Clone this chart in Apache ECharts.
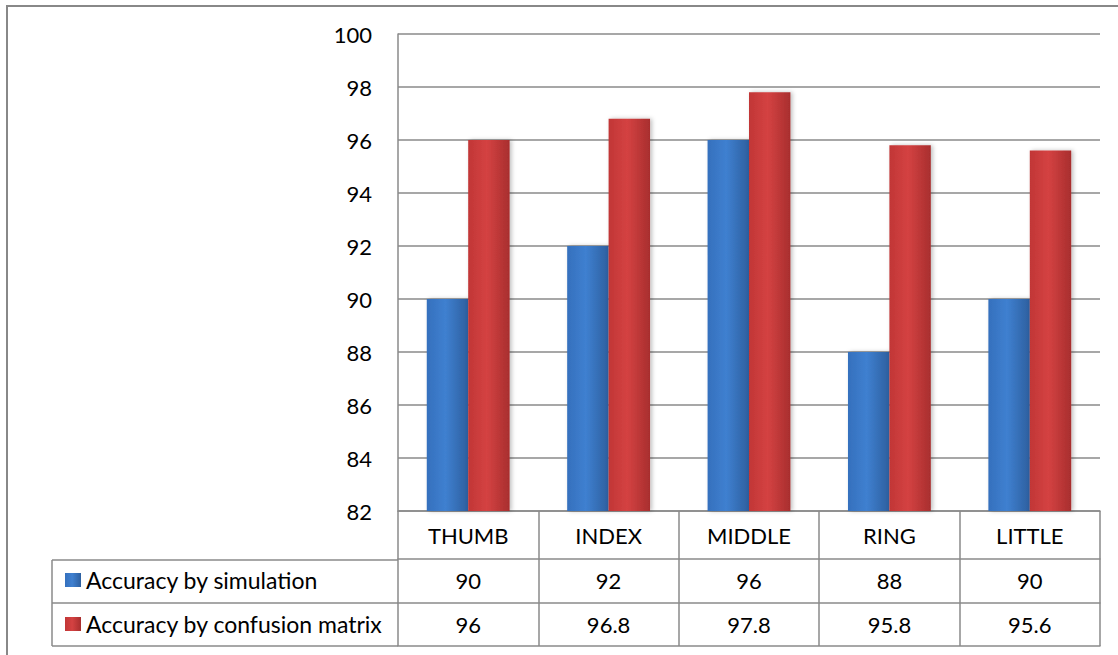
<!DOCTYPE html>
<html>
<head>
<meta charset="utf-8">
<script src="https://cdn.jsdelivr.net/npm/echarts@6/dist/echarts.min.js"></script>
<style>
html,body{margin:0;padding:0;background:#fff;}
#chart{width:1118px;height:655px;}
</style>
</head>
<body>
<div id="chart"></div>
<script>
const categories = ['THUMB', 'INDEX', 'MIDDLE', 'RING', 'LITTLE'];
const seriesNames = ['Accuracy by simulation', 'Accuracy by confusion matrix'];
const simulation = [90, 92, 96, 88, 90];
const confusion = [96, 96.8, 97.8, 95.8, 95.6];
const yTicks = { min: 82, max: 100, interval: 2 };

const FONT = 'Lato, "Open Sans", sans-serif';
const GRID = '#8a8a8a';
const FS = 22;

const chart = echarts.init(document.getElementById('chart'), null, { renderer: 'svg' });

function grad(c1, c2, c3) {
  return new echarts.graphic.LinearGradient(0, 0, 1, 0, [
    { offset: 0, color: c1 },
    { offset: 0.45, color: c2 },
    { offset: 1, color: c3 }
  ]);
}

const blueFill = grad('#3570bd', '#3f80d0', '#2d5f9f');
const redFill = grad('#c13636', '#d44242', '#a82e2e');

chart.setOption({
  animation: false,
  backgroundColor: '#fff',
  grid: { left: 398, right: 18, top: 34, bottom: 144, containLabel: false },
  legend: {
    orient: 'vertical',
    left: 60,
    top: 563,
    itemWidth: 16,
    itemHeight: 14,
    itemGap: 20,
    icon: 'rect',
    textStyle: { fontFamily: FONT, fontSize: 23, color: '#000', lineHeight: 24 },
    data: [
      { name: seriesNames[0], itemStyle: { color: blueFill } },
      { name: seriesNames[1], itemStyle: { color: redFill } }
    ]
  },
  yAxis: {
    type: 'value',
    min: yTicks.min,
    max: yTicks.max,
    interval: yTicks.interval,
    axisLine: { show: true, lineStyle: { color: GRID, width: 1.5 } },
    axisTick: { show: false },
    splitLine: { lineStyle: { color: GRID, width: 1.5 } },
    axisLabel: { fontFamily: FONT, fontSize: FS, color: '#000', margin: 26 }
  },
  xAxis: [
    {
      type: 'category',
      data: categories,
      position: 'bottom',
      axisLine: { show: true, lineStyle: { color: GRID, width: 1.5 } },
      axisTick: { show: true, length: 135, lineStyle: { color: GRID, width: 1.5 } },
      axisLabel: { fontFamily: FONT, fontSize: FS, color: '#000', margin: 13 }
    },
    {
      type: 'category',
      data: simulation.map(String),
      position: 'bottom',
      offset: 48,
      axisLine: { show: true, lineStyle: { color: GRID, width: 1.5 } },
      axisTick: { show: false },
      axisLabel: { fontFamily: FONT, fontSize: FS, color: '#000', margin: 10 }
    },
    {
      type: 'category',
      data: confusion.map(String),
      position: 'bottom',
      offset: 92,
      axisLine: { show: true, lineStyle: { color: GRID, width: 1.5 } },
      axisTick: { show: false },
      axisLabel: { fontFamily: FONT, fontSize: FS, color: '#000', margin: 10 }
    },
    {
      type: 'category',
      data: categories,
      position: 'bottom',
      offset: 135,
      axisLine: { show: true, lineStyle: { color: GRID, width: 1.5 } },
      axisTick: { show: false },
      axisLabel: { show: false }
    }
  ],
  series: [
    {
      name: seriesNames[0],
      type: 'bar',
      xAxisIndex: 0,
      data: simulation,
      barGap: '0%',
      barCategoryGap: '41%',
      itemStyle: {
        color: blueFill,
        shadowColor: 'rgba(0,0,0,0.25)',
        shadowBlur: 4,
        shadowOffsetX: 2
      }
    },
    {
      name: seriesNames[1],
      type: 'bar',
      xAxisIndex: 0,
      data: confusion,
      barGap: '0%',
      barCategoryGap: '41%',
      itemStyle: {
        color: redFill,
        shadowColor: 'rgba(0,0,0,0.25)',
        shadowBlur: 4,
        shadowOffsetX: 2
      }
    }
  ],
  graphic: [
    { type: 'rect', shape: { x: 7, y: 6, width: 1200, height: 800 }, style: { fill: null, stroke: '#888', lineWidth: 2 }, silent: true },
    { type: 'line', shape: { x1: 52, y1: 560, x2: 398, y2: 560 }, style: { stroke: GRID, lineWidth: 1.5 } },
    { type: 'line', shape: { x1: 52, y1: 603, x2: 398, y2: 603 }, style: { stroke: GRID, lineWidth: 1.5 } },
    { type: 'line', shape: { x1: 52, y1: 646, x2: 398, y2: 646 }, style: { stroke: GRID, lineWidth: 1.5 } },
    { type: 'line', shape: { x1: 52, y1: 560, x2: 52, y2: 646 }, style: { stroke: GRID, lineWidth: 1.5 } }
  ]
});
</script>
</body>
</html>
